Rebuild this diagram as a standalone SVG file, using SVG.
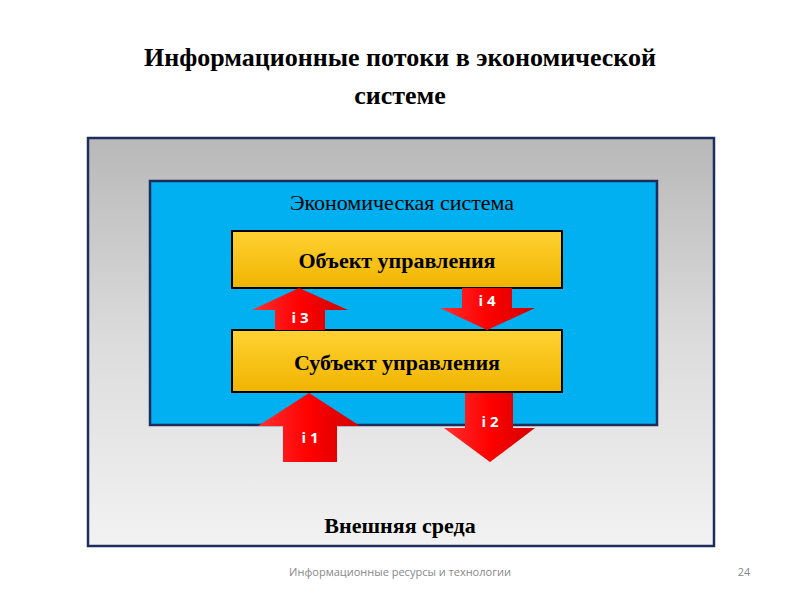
<svg xmlns="http://www.w3.org/2000/svg" width="800" height="600" viewBox="0 0 800 600">
<defs>
<linearGradient id="gr" x1="0" y1="0" x2="0" y2="1"><stop offset="0" stop-color="#b8b8b8"/><stop offset="0.5" stop-color="#dcdcdc"/><stop offset="1" stop-color="#f2f2f2"/></linearGradient>
<linearGradient id="yl" x1="0" y1="0" x2="0" y2="1"><stop offset="0" stop-color="#ffd233"/><stop offset="1" stop-color="#f0b400"/></linearGradient>
<linearGradient id="rd" x1="0" y1="0" x2="1" y2="0"><stop offset="0" stop-color="#ff3030"/><stop offset="0.5" stop-color="#ff0000"/><stop offset="1" stop-color="#d00000"/></linearGradient>
<style>
.t{font-family:"Liberation Serif",serif;font-weight:bold;fill:#000}
.a{fill:url(#rd)}
.l{font-family:"Open Sans","Liberation Sans",sans-serif;font-weight:bold;font-size:15px;fill:#fff}
.box{fill:url(#yl);stroke:#000;stroke-width:2}
</style>
</defs>
<text class="t" x="400" y="66" font-size="26" text-anchor="middle">Информационные потоки в экономической</text>
<text class="t" x="400" y="104" font-size="26" text-anchor="middle">системе</text>
<g id="env"><rect x="88" y="138" width="626" height="408" fill="url(#gr)" stroke="#1f2d5c" stroke-width="2.5"/>
<text class="t" x="400" y="533" font-size="22" text-anchor="middle">Внешняя среда</text></g>
<g id="econ"><rect x="150" y="181" width="507" height="244" fill="#00b0f0" stroke="#1f2d5c" stroke-width="2.5"/>
<text x="402" y="210" font-size="22" text-anchor="middle" style="font-family:'Liberation Serif',serif;fill:#000">Экономическая система</text></g>
<g id="obj"><rect class="box" x="232" y="231" width="330" height="57"/>
<text class="t" x="397" y="268" font-size="22" text-anchor="middle">Объект управления</text></g>
<g id="subj"><rect class="box" x="232" y="330" width="330" height="62"/>
<text class="t" x="397" y="370" font-size="22" text-anchor="middle">Субъект управления</text></g>
<g id="connectors">
<polygon class="a" points="299,288 348,310 325,310 325,330 275,330 275,310 252,310"/>
<text class="l" x="300" y="323" text-anchor="middle">i 3</text>
<polygon class="a" points="462,288 512,288 512,308 535,308 487,330 440,308 462,308"/>
<text class="l" x="487" y="306" text-anchor="middle">i 4</text>
<polygon class="a" points="309,393 360,426 337,426 337,462 283,462 283,426 258,426"/>
<text class="l" x="310" y="443" text-anchor="middle">i 1</text>
<polygon class="a" points="465,393 513,393 513,428 535,428 490,462 444,428 465,428"/>
<text class="l" x="490" y="427" text-anchor="middle">i 2</text>
</g>
<text x="400" y="576" font-size="11" text-anchor="middle" fill="#888" font-family="Open Sans, sans-serif">Информационные ресурсы и технологии</text>
<text x="744" y="576" font-size="11" text-anchor="middle" fill="#888" font-family="Open Sans, sans-serif">24</text>
</svg>
